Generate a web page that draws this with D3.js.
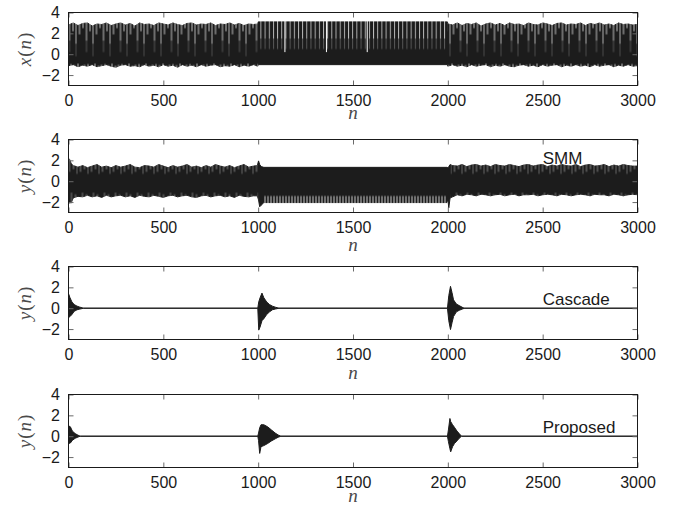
<!DOCTYPE html>
<html>
<head>
<meta charset="utf-8">
<script src="https://cdnjs.cloudflare.com/ajax/libs/d3/7.8.5/d3.min.js"></script>
<style>
    body { margin: 0; background: #fff; }
    svg { display: block; }
    .axis text { font-family: "Liberation Sans", Arial, sans-serif; font-size: 16px; fill: #1a1a1a; }
    .axis line { stroke: #6a6a6a; }
    .math { font-family: "Liberation Serif", "DejaVu Serif", serif; font-size: 19px; fill: #4a4a4a; }
    .note { font-family: "Liberation Sans", Arial, sans-serif; font-size: 17px; fill: #1a1a1a; }
</style>
</head>
<body>
<svg id="chart" width="673" height="505"></svg>
<script>
(function() {
    var nTicks = [0, 500, 1000, 1500, 2000, 2500, 3000];
    var yTicks = [-2, 0, 2, 4];

    // envelopes: [n, top, bottom]
    var xEnvelope = [
        [0, 2.8, -1.1], [25, 3.0, -1.0], [50, 2.75, -1.2], [75, 2.95, -1.05], [100, 3.0, -1.15],
        [125, 2.7, -1.0], [150, 2.9, -1.2], [175, 2.85, -1.1], [200, 3.0, -1.0], [225, 2.75, -1.15],
        [250, 2.9, -1.25], [275, 3.0, -1.05], [300, 2.8, -1.0], [325, 2.95, -1.15], [350, 2.7, -1.1],
        [375, 3.0, -1.2], [400, 2.85, -1.0], [425, 2.9, -1.15], [450, 2.75, -1.05], [475, 3.0, -1.2],
        [500, 2.9, -1.0], [525, 2.8, -1.15], [550, 3.0, -1.05], [575, 2.85, -1.25], [600, 2.75, -1.0],
        [625, 2.95, -1.15], [650, 3.0, -1.05], [675, 2.8, -1.2], [700, 2.9, -1.0], [725, 2.85, -1.15],
        [750, 3.0, -1.05], [775, 2.75, -1.0], [800, 2.9, -1.2], [825, 2.85, -1.1], [850, 3.0, -1.15],
        [875, 2.8, -1.0], [900, 2.95, -1.2], [925, 2.75, -1.05], [950, 2.9, -1.15], [975, 2.85, -1.0],
        [998, 2.9, -1.15],
        [1000, 3.1, -1.0], [1998, 3.1, -1.0],
        [2000, 2.9, -1.15], [2025, 2.8, -1.0], [2050, 3.0, -1.15], [2075, 2.75, -1.05], [2100, 2.95, -1.2],
        [2125, 2.85, -1.0], [2150, 3.0, -1.15], [2175, 2.7, -1.05], [2200, 2.9, -1.0], [2225, 3.0, -1.2],
        [2250, 2.8, -1.05], [2275, 2.95, -1.15], [2300, 2.75, -1.0], [2325, 3.0, -1.15], [2350, 2.85, -1.2],
        [2375, 2.9, -1.05], [2400, 2.75, -1.0], [2425, 3.0, -1.15], [2450, 2.85, -1.05], [2475, 2.8, -1.2],
        [2500, 3.0, -1.0], [2525, 2.9, -1.15], [2550, 2.75, -1.05], [2575, 2.95, -1.0], [2600, 3.0, -1.2],
        [2625, 2.8, -1.05], [2650, 2.9, -1.15], [2675, 2.85, -1.0], [2700, 3.0, -1.15], [2725, 2.75, -1.05],
        [2750, 2.95, -1.2], [2775, 2.85, -1.0], [2800, 3.0, -1.15], [2825, 2.8, -1.05], [2850, 2.9, -1.0],
        [2875, 2.75, -1.2], [2900, 3.0, -1.05], [2925, 2.85, -1.15], [2950, 2.9, -1.0], [2975, 2.8, -1.15],
        [3000, 2.85, -1.1]
    ];
    // deep white gaps in the periodic stretch of x(n)
    var xDeepGaps = [1141, 1360, 1575];

    var smmEnvelope = [
        [0, 2.2, -2.2], [6, 2.1, -2.0], [14, 1.7, -2.1], [25, 1.5, -1.6], [50, 1.35, -1.45],
        [75, 1.5, -1.5], [100, 1.3, -1.35], [125, 1.45, -1.5], [150, 1.6, -1.4], [175, 1.35, -1.55],
        [200, 1.45, -1.35], [225, 1.3, -1.5], [250, 1.5, -1.4], [275, 1.35, -1.35], [300, 1.45, -1.5],
        [325, 1.6, -1.4], [350, 1.35, -1.55], [375, 1.3, -1.35], [400, 1.5, -1.45], [425, 1.45, -1.5],
        [450, 1.35, -1.35], [475, 1.6, -1.45], [500, 1.45, -1.55], [525, 1.3, -1.4], [550, 1.5, -1.35],
        [575, 1.35, -1.5], [600, 1.45, -1.4], [625, 1.6, -1.35], [650, 1.35, -1.5], [675, 1.45, -1.55],
        [700, 1.3, -1.4], [725, 1.5, -1.35], [750, 1.35, -1.5], [775, 1.6, -1.4], [800, 1.45, -1.35],
        [825, 1.35, -1.5], [850, 1.5, -1.4], [875, 1.3, -1.55], [900, 1.45, -1.35], [925, 1.6, -1.45],
        [950, 1.35, -1.5], [975, 1.45, -1.4], [995, 1.5, -1.4],
        [1002, 1.95, -1.8], [1008, 1.6, -2.45], [1016, 1.4, -2.3], [1030, 1.33, -2.05], [1995, 1.33, -2.05],
        [2000, 1.3, -1.7], [2005, 1.4, -2.55], [2012, 1.6, -1.6], [2025, 1.5, -1.5], [2050, 1.45, -1.3],
        [2075, 1.6, -1.4], [2100, 1.4, -1.25], [2125, 1.55, -1.3], [2150, 1.6, -1.4], [2175, 1.45, -1.25],
        [2200, 1.55, -1.3], [2225, 1.4, -1.4], [2250, 1.6, -1.3], [2275, 1.5, -1.25], [2300, 1.45, -1.4],
        [2325, 1.6, -1.3], [2350, 1.5, -1.25], [2375, 1.4, -1.4], [2400, 1.55, -1.3], [2425, 1.6, -1.3],
        [2450, 1.45, -1.25], [2475, 1.55, -1.4], [2500, 1.6, -1.3], [2525, 1.4, -1.25], [2550, 1.55, -1.3],
        [2575, 1.45, -1.4], [2600, 1.6, -1.25], [2625, 1.5, -1.3], [2650, 1.45, -1.4], [2675, 1.6, -1.3],
        [2700, 1.4, -1.25], [2725, 1.55, -1.3], [2750, 1.6, -1.4], [2775, 1.45, -1.25], [2800, 1.5, -1.3],
        [2825, 1.6, -1.3], [2850, 1.4, -1.4], [2875, 1.55, -1.25], [2900, 1.45, -1.3], [2925, 1.6, -1.4],
        [2950, 1.5, -1.3], [2975, 1.45, -1.25], [3000, 1.45, -1.3]
    ];

    var cascadeEnvelope = [
        [0, 1.4, -0.9], [8, 1.0, -0.8], [18, 0.6, -0.6], [30, 0.35, -0.3], [45, 0.2, -0.15],
        [60, 0.1, -0.08], [80, 0, 0],
        [998, 0, 0], [1003, 0.6, -2.1], [1010, 1.0, -1.8], [1020, 1.45, -1.2], [1030, 1.0, -1.0],
        [1045, 0.6, -0.6], [1060, 0.35, -0.35], [1075, 0.2, -0.15], [1090, 0.1, -0.08], [1110, 0, 0],
        [1998, 0, 0], [2005, 1.2, -1.2], [2014, 2.1, -2.05], [2022, 1.5, -1.4], [2030, 0.8, -0.8],
        [2045, 0.4, -0.35], [2060, 0.25, -0.2], [2080, 0.05, -0.05], [2090, 0, 0],
        [3000, 0, 0]
    ];

    var proposedEnvelope = [
        [0, 1.0, -0.7], [10, 0.9, -0.65], [20, 0.5, -0.4], [35, 0.25, -0.2], [50, 0.1, -0.08],
        [62, 0, 0],
        [998, 0, 0], [1002, 0.3, -0.4], [1008, 0.8, -1.65], [1015, 1.1, -1.0], [1030, 1.1, -0.9],
        [1050, 0.9, -0.7], [1070, 0.6, -0.45], [1090, 0.3, -0.25], [1105, 0.12, -0.1], [1120, 0, 0],
        [1998, 0, 0], [2003, 0.6, -0.5], [2011, 1.7, -1.2], [2015, 1.4, -1.5], [2025, 1.1, -1.0],
        [2035, 0.85, -0.7], [2048, 0.5, -0.45], [2060, 0.25, -0.2], [2072, 0, 0],
        [3000, 0, 0]
    ];

    var notes = ["SMM", "Cascade", "Proposed"];
    var noteAt = [[2500, 2.2], [2500, 0.9], [2500, 0.9]];

    ///////////////////////// LAYOUT //////////////////////////
    var left = 68.5, plotW = 569, plotH = 73;
    var panelTops = [12.5, 139.5, 266.5, 394.5];
    var nLabelBase = [119, 251, 379, 502];

    var xScale = d3.scaleLinear().domain([0, 3000]).range([0, plotW]),
        yScale = d3.scaleLinear().domain([-3, 4]).range([plotH, 0]);

    var fmt = d3.format("d");

    var svg = d3.select("#chart");
    var defs = svg.append("defs");

    var area = d3.area()
        .x(function(d) { return xScale(d[0]); })
        .y0(function(d) { return yScale(d[2]); })
        .y1(function(d) { return yScale(d[1]); });

    // white vertical gaps of the dense signal, as repeating textures
    function gapPattern(id, width, lines) {
        var p = defs.append("pattern")
            .attr("id", id)
            .attr("patternUnits", "userSpaceOnUse")
            .attr("width", width)
            .attr("height", plotH);
        p.selectAll("line")
            .data(lines)
            .enter()
            .append("line")
            .attr("x1", function(d) { return d[0]; })
            .attr("x2", function(d) { return d[0]; })
            .attr("y1", function(d) { return yScale(d[1]); })
            .attr("y2", function(d) { return yScale(d[2]); })
            .attr("stroke", "#fff")
            .attr("stroke-width", 0.8)
            .attr("stroke-opacity", function(d) { return d[3]; });
    }

    gapPattern("xNoise", 17, [
        [1, 3.3, 1.3, 0.9], [4.5, 3.3, 2.2, 0.9], [7.5, 3.3, 1.0, 0.8], [11, 3.3, 1.9, 0.9], [14.5, 3.3, 2.5, 0.9],
        [1, 1.3, 0.2, 0.3], [7.5, 1.0, -0.2, 0.25],
        [2.5, -1.6, -0.95, 0.9], [6, -1.6, -1.05, 0.9], [9.5, -1.6, -0.9, 0.9], [13, -1.6, -1.1, 0.9], [16, -1.6, -1.0, 0.8]
    ]);
    gapPattern("xStripe", xScale(22), [[0.5, 3.3, 1.5, 0.9], [0.5, 1.5, 0.5, 0.35]]);
    gapPattern("smmNoise", 11, [
        [1, 2.5, 0.9, 0.55], [5, 2.5, 1.15, 0.6], [8.5, 2.5, 0.7, 0.4],
        [3, -2.5, -1.1, 0.5], [7, -2.5, -1.25, 0.5]
    ]);
    gapPattern("smmComb", 3, [[1.5, -2.3, -1.42, 0.95]]);

    var panels = [
        { env: xEnvelope, sym: "x", tex: [[0, 1000, "xNoise"], [1000, 1998, "xStripe"], [2000, 3000, "xNoise"]] },
        { env: smmEnvelope, sym: "y", tex: [[0, 1000, "smmNoise"], [1030, 1995, "smmComb"], [2015, 3000, "smmNoise"]] },
        { env: cascadeEnvelope, sym: "y", tex: [] },
        { env: proposedEnvelope, sym: "y", tex: [] }
    ];

    panels.forEach(function(p, i) {
        var g = svg.append("g")
            .attr("transform", "translate(" + left + "," + panelTops[i] + ")");

        g.append("path")
            .datum(p.env)
            .attr("d", area)
            .attr("fill", "#1c1c1c")
            .attr("stroke", "#1c1c1c")
            .attr("stroke-width", 1);

        p.tex.forEach(function(t) {
            g.append("rect")
                .attr("x", xScale(t[0]))
                .attr("width", xScale(t[1]) - xScale(t[0]))
                .attr("y", 0)
                .attr("height", plotH)
                .attr("fill", "url(#" + t[2] + ")");
        });

        if (i == 0) {
            g.selectAll(".deep")
                .data(xDeepGaps)
                .enter()
                .append("line")
                .attr("x1", function(d) { return xScale(d); })
                .attr("x2", function(d) { return xScale(d); })
                .attr("y1", yScale(3.3))
                .attr("y2", yScale(0.2))
                .attr("stroke", "#fff")
                .attr("stroke-width", 1);
        }

        // axes with inward ticks on all four sides
        g.append("g")
            .attr("class", "axis")
            .attr("transform", "translate(0," + plotH + ")")
            .call(d3.axisBottom(xScale).tickValues(nTicks).tickFormat(fmt).tickSizeInner(-5).tickSizeOuter(0).tickPadding(9));
        g.append("g")
            .attr("class", "axis")
            .call(d3.axisTop(xScale).tickValues(nTicks).tickSizeInner(-5).tickSizeOuter(0).tickFormat(""));
        g.append("g")
            .attr("class", "axis")
            .call(d3.axisLeft(yScale).tickValues(yTicks).tickFormat(fmt).tickSizeInner(-5).tickSizeOuter(0).tickPadding(8.5));
        g.append("g")
            .attr("class", "axis")
            .attr("transform", "translate(" + plotW + ",0)")
            .call(d3.axisRight(yScale).tickValues(yTicks).tickSizeInner(-5).tickSizeOuter(0).tickFormat(""));
        g.selectAll(".axis .domain").remove();

        g.append("rect")
            .attr("width", plotW)
            .attr("height", plotH)
            .attr("fill", "none")
            .attr("stroke", "#1a1a1a")
            .attr("stroke-width", 1);

        // y label, e.g. x(n)
        var yl = svg.append("text")
            .attr("class", "math")
            .attr("transform", "translate(31," + (panelTops[i] + plotH / 2) + ") rotate(-90)")
            .attr("text-anchor", "middle")
            .attr("letter-spacing", 1);
        yl.append("tspan").attr("font-style", "italic").text(p.sym);
        yl.append("tspan").text("(");
        yl.append("tspan").attr("font-style", "italic").text("n");
        yl.append("tspan").text(")");

        svg.append("text")
            .attr("class", "math")
            .attr("font-style", "italic")
            .attr("font-size", 17)
            .attr("text-anchor", "middle")
            .attr("x", left + plotW / 2)
            .attr("y", nLabelBase[i])
            .text("n");

        if (i > 0) {
            g.append("text")
                .attr("class", "note")
                .attr("x", xScale(noteAt[i - 1][0]))
                .attr("y", yScale(noteAt[i - 1][1]))
                .attr("dy", "0.35em")
                .text(notes[i - 1]);
        }
    });
})();
</script>
</body>
</html>
